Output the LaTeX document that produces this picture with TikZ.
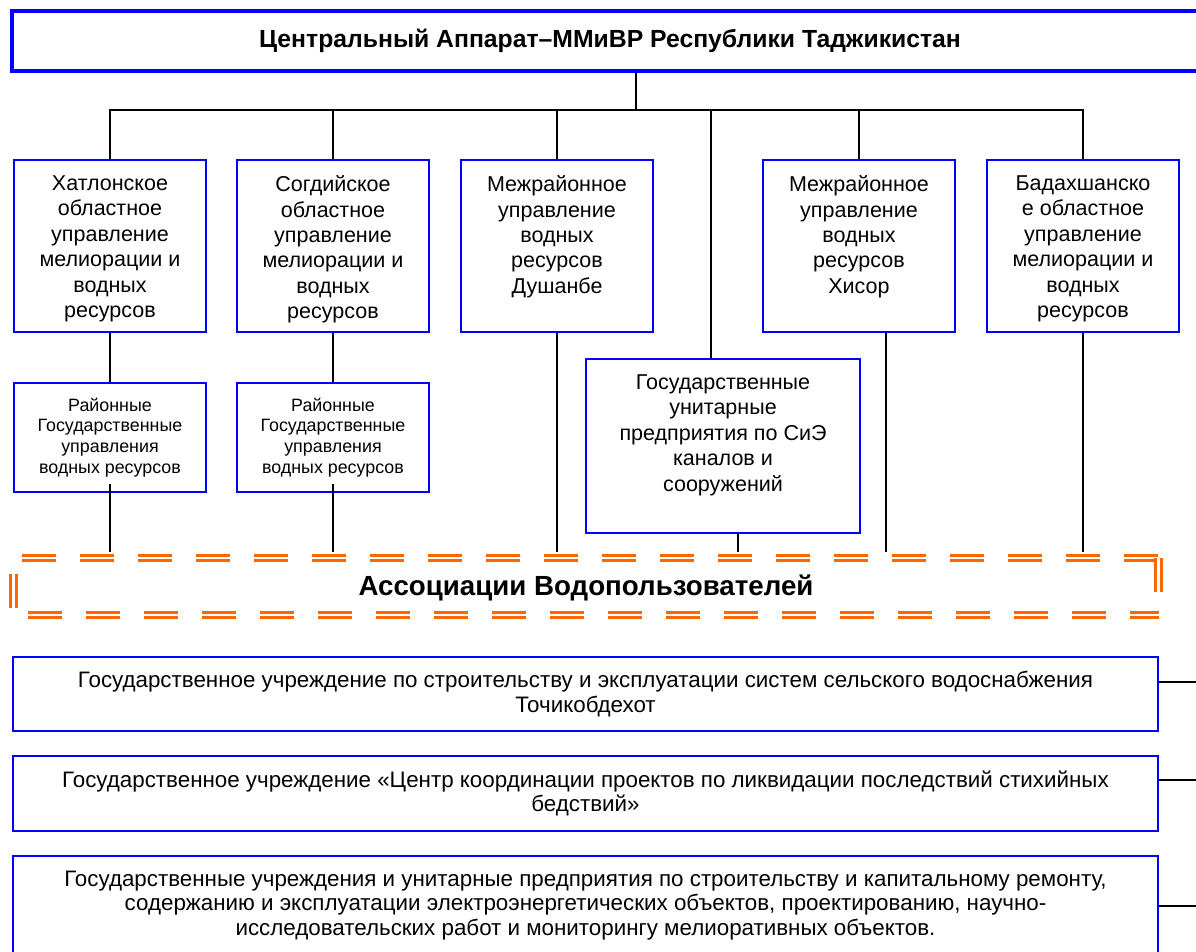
\documentclass[tikz,border=0pt]{standalone}
\usepackage{fontspec}
\setmainfont{Liberation Sans}
\definecolor{BlueL}{HTML}{0000FF}
\definecolor{OrangeL}{HTML}{FF6600}
\tikzset{
  head/.style={draw=BlueL, line width=3pt, minimum width=29.9cm, minimum height=1.5cm,
               inner sep=0pt, font=\fontsize{17.6pt}{20pt}\selectfont\bfseries},
  unit/.style={draw=BlueL, line width=1.5pt, fill=white, inner xsep=0.1cm, inner ysep=0.39cm,
               font=\fontsize{15.3pt}{18.1pt}\selectfont},
  subunit/.style={draw=BlueL, line width=1.5pt, fill=white, align=center, inner sep=0pt,
                  minimum width=4.8cm, minimum height=2.725cm,
                  font=\fontsize{12.7pt}{14.8pt}\selectfont},
  inst/.style={draw=BlueL, line width=1.5pt, fill=white, align=center, inner sep=0pt,
               minimum width=28.625cm, font=\fontsize{15.9pt}{17.4pt}\selectfont},
  wua/.style={minimum width=28.625cm, minimum height=1.425cm, inner sep=0pt, outer sep=0pt,
              font=\fontsize{19.7pt}{22pt}\selectfont\bfseries},
  wuaedge/.style={draw=OrangeL, line width=2.1pt, double=white, double distance=2.1pt,
                  dash pattern=on 0.85cm off 0.6cm},
  link/.style={draw=black, line width=1.3pt},
}
\newcommand{\toptext}[3]{\parbox[c][#1][t]{#2}{\centering #3}}

\begin{document}
\begin{tikzpicture}
  \clip (0,0) rectangle (29.9,-23.775);
  \node[head] (cen) at (15.25,-1.025) {Центральный Аппарат–ММиВР Республики Таджикистан};
  \coordinate (hub) at (15.9,-2.75);
  \coordinate (wtop) at (0,-13.8);

  % regional and inter-district offices
  \node[unit] (khat)   at (2.75,-6.15)   {\toptext{3.52cm}{4.6cm}{Хатлонское\\областное\\управление\\мелиорации и\\водных\\ресурсов}};
  \node[unit] (sogd)   at (8.325,-6.15)  {\toptext{3.52cm}{4.6cm}{Согдийское\\областное\\управление\\мелиорации и\\водных\\ресурсов}};
  \node[unit] (dush)   at (13.925,-6.15) {\toptext{3.52cm}{4.6cm}{Межрайонное\\управление\\водных\\ресурсов\\Душанбе}};
  \node[unit] (hisor)  at (21.475,-6.15) {\toptext{3.52cm}{4.6cm}{Межрайонное\\управление\\водных\\ресурсов\\Хисор}};
  \node[unit] (badakh) at (27.075,-6.15) {\toptext{3.52cm}{4.6cm}{Бадахшанско\\е областное\\управление\\мелиорации и\\водных\\ресурсов}};

  \node[subunit] (khatsub) at (2.75,-10.9375)  {Районные\\Государственные\\управления\\водных ресурсов};
  \node[subunit] (sogdsub) at (8.325,-10.9375) {Районные\\Государственные\\управления\\водных ресурсов};
  \node[unit] (gup) at (18.075,-11.15) {\toptext{3.57cm}{6.65cm}{Государственные\\унитарные\\предприятия по СиЭ\\каналов и\\сооружений}};

  \node[wua] (wua) at (14.65,-14.7) {Ассоциации Водопользователей};

  \node[inst, minimum height=1.85cm]  (gu1) at (14.6375,-17.35)   {Государственное учреждение по строительству и эксплуатации систем сельского водоснабжения\\Точикобдехот};
  \node[inst, minimum height=1.875cm] (gu2) at (14.6375,-19.8375) {Государственное учреждение «Центр координации проектов по ликвидации последствий стихийных\\бедствий»};
  \node[inst, minimum height=2.475cm] (gu3) at (14.6375,-22.6375) {Государственные учреждения и унитарные предприятия по строительству и капитальному ремонту,\\содержанию и эксплуатации электроэнергетических объектов, проектированию, научно-\\исследовательских работ и мониторингу мелиоративных объектов.};
  \coordinate (r1) at (30,-17.05);
  \coordinate (r2) at (30,-19.5);
  \coordinate (r3) at (30,-22.65);

  % tree
  \draw[link] (cen.south -| hub) -- (hub);
  \draw[link] (khat.north) -- (khat.north |- hub) -- (badakh.north |- hub) -- (badakh.north);
  \foreach \n in {sogd, dush, hisor}
    \draw[link] (\n.north) -- (\n.north |- hub);
  \draw[link] ([xshift=-3mm]gup.north) -- ([xshift=-3mm]gup.north |- hub);
  \draw[link] (khat) -- (khatsub);
  \draw[link] (sogd) -- (sogdsub);
  \foreach \n in {khatsub, sogdsub}
    \draw[link] ([yshift=2.25mm]\n.south) -- (\n.south |- wtop);
  \draw[link] (dush.south) -- (dush.south |- wtop);
  \draw[link] (badakh.south) -- (badakh.south |- wtop);
  \draw[link] ([xshift=6.75mm]hisor.south) -- ([xshift=6.75mm]hisor.south |- wtop);
  \draw[link] ([xshift=3.75mm]gup.south) -- ([xshift=3.75mm]gup.south |- wtop);
  \foreach \n/\r in {gu1/r1, gu2/r2, gu3/r3}
    \draw[link] (\n.east |- \r) -- (\r);

  % double dashed frame, one stroke per side
  \draw[wuaedge, dash phase=1.2375cm] ([yshift=0.0375cm]wua.north west) -- ([yshift=0.0375cm]wua.north east);
  \draw[wuaedge, dash phase=1.0875cm] ([yshift=0.0375cm]wua.south west) -- ([yshift=0.0375cm]wua.south east);
  \draw[wuaedge, dash phase=1.05cm]   ([yshift=0.0375cm]wua.north west) -- ([yshift=0.0375cm]wua.south west);
  \draw[wuaedge]                      ([yshift=0.0375cm]wua.north east) -- ([yshift=0.0375cm]wua.south east);
\end{tikzpicture}
\end{document}
